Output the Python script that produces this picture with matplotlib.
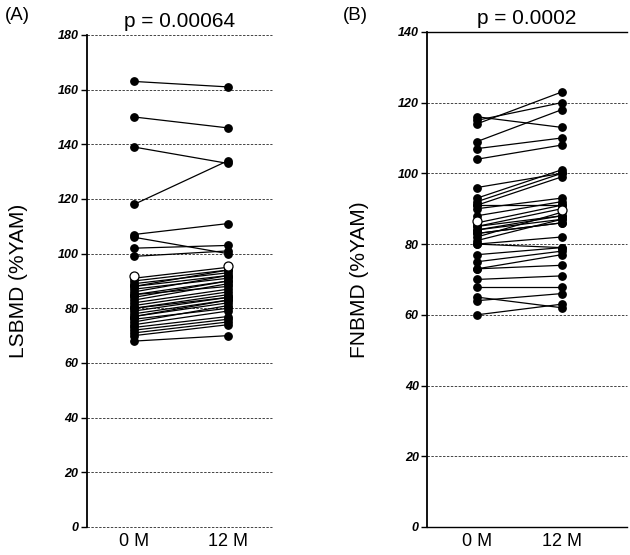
import matplotlib
matplotlib.use("Agg")
import matplotlib.pyplot as plt

plt.rcParams['font.family'] = ['Liberation Sans', 'DejaVu Sans']

time_labels = ["0 M", "12 M"]

# Panel A: LSBMD (%YAM), paired values (0 M, 12 M)
lsbmd_0m = [163, 150, 139, 118, 107, 106, 102, 99,
            91, 90, 89, 88, 88, 87, 86, 85, 85, 84, 83, 82, 81, 80, 80,
            79, 78, 77, 77, 76, 75, 74, 73, 72, 71, 70, 68]
lsbmd_12m = [161, 146, 133, 134, 111, 100, 103, 101,
             95, 94, 93, 94, 92, 91, 92, 90, 88, 90, 89, 87, 86, 84, 85,
             84, 83, 83, 82, 80, 81, 79, 77, 76, 75, 74, 70]
lsbmd_mean = [92, 95.5]
p_a = "p = 0.00064"

# Panel B: FNBMD (%YAM), paired values (0 M, 12 M)
fnbmd_0m = [116, 115, 114, 109, 107, 104, 96, 93, 92, 91, 91, 90, 88,
            86, 85, 85, 84, 84, 83, 83, 82, 81, 80, 80, 77, 75, 73, 73,
            70, 68, 65, 64, 60]
fnbmd_12m = [113, 120, 123, 118, 110, 108, 100, 101, 100, 99, 91, 93, 92,
             91, 90, 88, 88, 87, 86, 86, 89, 87, 82, 79, 79, 78, 77, 74,
             71, 68, 62, 66, 63]
fnbmd_mean = [86.5, 89.7]
p_b = "p = 0.0002"

fig = plt.figure(figsize=(6.3, 5.55), dpi=100)

def draw_panel(ax, v0, v12, means, ymax, ystep, xlim, ylabel, ptext, solid_frame):
    for a, b in zip(v0, v12):
        ax.plot([0, 1], [a, b], color='black', lw=0.9, marker='o', ms=5.3,
                mfc='black', mec='black', zorder=3)
    ax.plot([0, 1], means, ls='none', marker='o', ms=6.5, mfc='white',
            mec='black', mew=0.9, zorder=5)
    ax.set_xlim(*xlim)
    ax.set_ylim(0, ymax)
    yt = list(range(0, ymax + 1, ystep))
    ax.set_yticks(yt)
    ax.set_yticklabels([str(t) for t in yt], fontsize=9, fontweight='bold',
                       fontstyle='italic')
    for t in yt:
        if solid_frame and t in (0, ymax):
            ax.axhline(t, color='black', lw=1.0, zorder=1, clip_on=False)
        else:
            ax.axhline(t, color='#444444', lw=0.7, ls=(0, (2.5, 1.5)), zorder=1,
                       clip_on=False)
    ax.set_xticks([0, 1])
    ax.set_xticklabels(time_labels, fontsize=13)
    ax.tick_params(axis='x', length=0, pad=4)
    ax.tick_params(axis='y', length=4, width=1, direction='out', pad=2)
    for s in ['top', 'right', 'bottom']:
        ax.spines[s].set_visible(False)
    ax.spines['left'].set_linewidth(1.3)
    ax.set_ylabel(ylabel, fontsize=15, labelpad=21)
    ax.set_title(ptext, fontsize=15, pad=6)

axA = fig.add_axes([0.138, 0.0505, 0.294, 0.8865])
draw_panel(axA, lsbmd_0m, lsbmd_12m, lsbmd_mean, 180, 20, (-0.5, 1.47),
           "LSBMD (%YAM)", p_a, False)
axB = fig.add_axes([0.678, 0.0505, 0.317, 0.892])
draw_panel(axB, fnbmd_0m, fnbmd_12m, fnbmd_mean, 140, 20, (-0.59, 1.77),
           "FNBMD (%YAM)", p_b, True)

fig.text(0.008, 0.972, "(A)", fontsize=13.5, va='center', ha='left')
fig.text(0.545, 0.972, "(B)", fontsize=13.5, va='center', ha='left')

fig.savefig("out.png", dpi=100)
